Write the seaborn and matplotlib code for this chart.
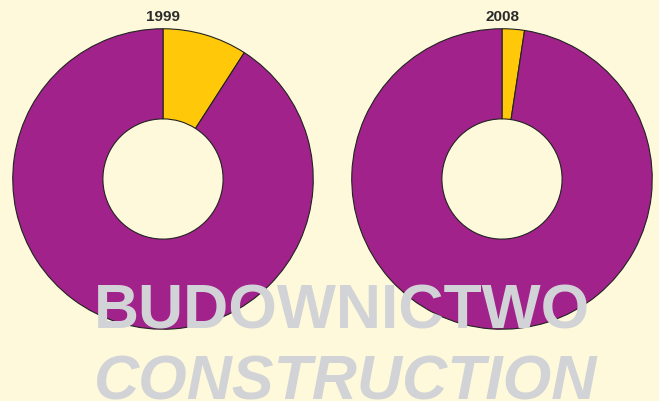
import matplotlib
matplotlib.use("Agg")
import matplotlib.pyplot as plt
import seaborn as sns

# share of the two segments per year (yellow first, clockwise from 12 o'clock)
YEARS = ["1999", "2008"]
SHARE_YELLOW = [9.1, 2.4]
SHARE_PURPLE = [90.9, 97.6]
SEGMENT_COLORS = ["#FFC90A", "#A0228A"]

TITLE_PL = "BUDOWNICTWO"
TITLE_EN = "CONSTRUCTION"

BG = "#FEF9DA"

sns.set_theme(style="white")
plt.rcParams["font.family"] = ["Liberation Sans", "DejaVu Sans"]

W, H = 659, 402
fig = plt.figure(figsize=(W / 100, H / 100), dpi=100, facecolor=BG)

# donut boxes in pixel coords: (center x, center y from top, radius)
boxes = [(163, 180, 151), (502, 180, 151)]

for (cx, cy, r), year, y_val, p_val in zip(boxes, YEARS, SHARE_YELLOW, SHARE_PURPLE):
    ax = fig.add_axes([(cx - r) / W, (H - cy - r) / H, 2 * r / W, 2 * r / H])
    ax.pie([y_val, p_val], colors=SEGMENT_COLORS, startangle=90, counterclock=False,
           radius=1, wedgeprops=dict(width=0.6, edgecolor="#222222", linewidth=0.8))
    ax.set_xlim(-1.005, 1.005)
    ax.set_ylim(-1.005, 1.005)
    ax.set_aspect("equal")
    ax.axis("off")
    fig.text(cx / W, (H - 17) / H, year, ha="center", va="center",
             fontsize=11, fontweight="bold", color="#2B2B2B")

fig.text(342 / W, (H - 329) / H, TITLE_PL, ha="center", va="baseline",
         fontsize=45, fontweight="bold", color="#D2D3D7")
fig.text(346 / W, (H - 400) / H, TITLE_EN, ha="center", va="baseline",
         fontsize=45, fontweight="bold", fontstyle="italic", color="#D2D3D7")

fig.savefig("out.png", dpi=100, facecolor=BG)
